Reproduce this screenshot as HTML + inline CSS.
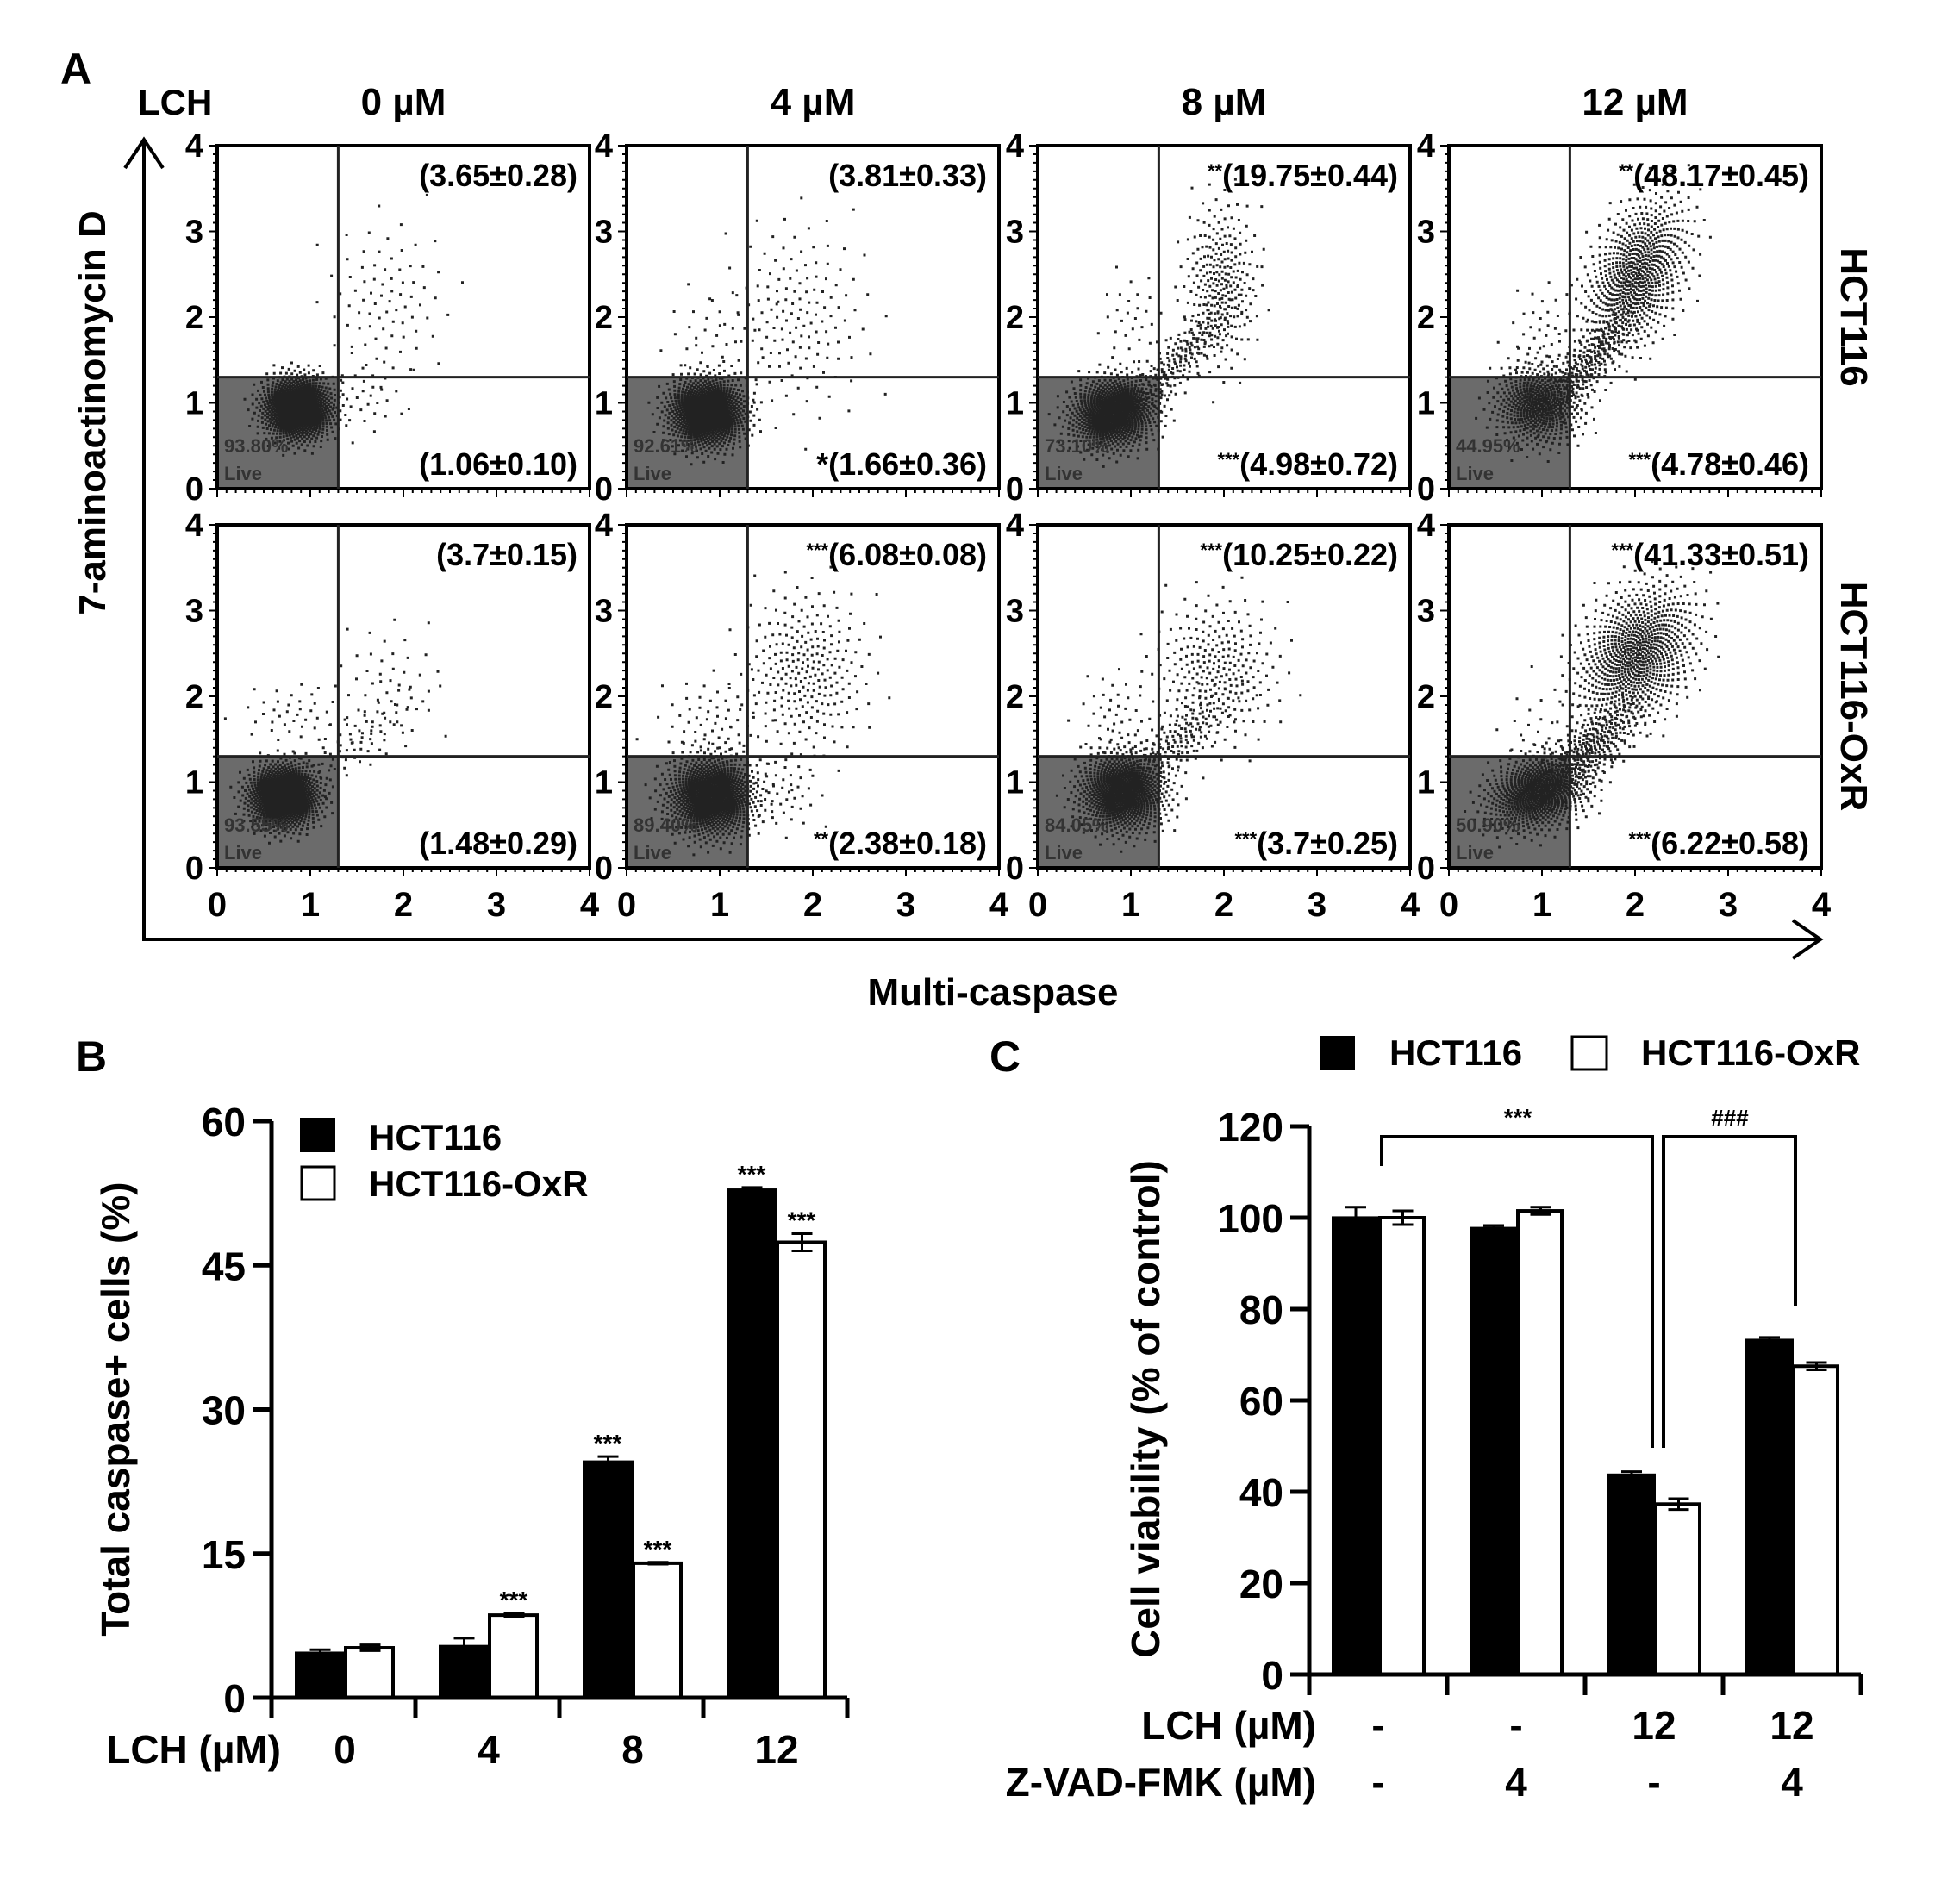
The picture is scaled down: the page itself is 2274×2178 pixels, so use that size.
<!DOCTYPE html>
<html><head><meta charset="utf-8"><style>
body{margin:0;background:#fff;}
svg{display:block;font-family:"Liberation Sans",Arial,sans-serif;font-weight:bold;}
</style></head><body>
<svg id="fig" width="2274" height="2178" viewBox="0 0 2274 2178" xmlns="http://www.w3.org/2000/svg">
<rect width="2274" height="2178" fill="#fff"/>
<g id="panelA"></g>
<g id="panelB"></g>
<g id="panelC"></g>
</svg>
<script>
// ---------- Panel A data ----------
const concLabels = ["0 µM","4 µM","8 µM","12 µM"];
const rowLabels = ["HCT116","HCT116-OxR"];
const urText = ["(3.65±0.28)","(3.81±0.33)","(19.75±0.44)","(48.17±0.45)","(3.7±0.15)","(6.08±0.08)","(10.25±0.22)","(41.33±0.51)"];
const urStars = ["","","**","**","","***","***","***"];
const lrText = ["(1.06±0.10)","(1.66±0.36)","(4.98±0.72)","(4.78±0.46)","(1.48±0.29)","(2.38±0.18)","(3.7±0.25)","(6.22±0.58)"];
const lrStars = ["","*","***","***","","**","***","***"];
const livePct = ["93.80%","92.61%","73.10%","44.95%","93.55%","89.40%","84.05%","50.90%"];
const aTicks = [0,1,2,3,4];
const gateX = 1.3, gateY = 1.3;
// clouds: [cx, cy, sx, sy, angleDeg, count] in axis units
const clouds = [
 [[0.85,0.95,0.2,0.2,30,900],[1.8,2.2,0.35,0.5,0,80],[1.6,1.1,0.2,0.25,0,30]],
 [[0.85,0.9,0.22,0.22,30,900],[1.8,2.0,0.4,0.6,0,150],[0.9,1.8,0.3,0.3,0,30]],
 [[0.8,0.9,0.25,0.22,25,800],[1.5,1.5,0.5,0.12,50,200],[1.95,2.4,0.2,0.5,0,250],[1.0,2.0,0.2,0.3,0,30]],
 [[0.95,1.0,0.25,0.25,30,500],[1.5,1.5,0.45,0.12,55,250],[2.0,2.5,0.25,0.5,-20,700],[1.0,1.8,0.2,0.35,0,40]],
 [[0.7,0.85,0.2,0.2,30,900],[1.5,1.5,0.5,0.15,40,80],[0.8,1.8,0.3,0.2,0,40],[1.8,2.2,0.3,0.4,0,40]],
 [[0.9,0.85,0.25,0.25,30,900],[1.9,2.3,0.35,0.5,0,250],[0.9,1.7,0.3,0.3,0,60],[1.7,0.9,0.2,0.25,0,40]],
 [[0.9,0.9,0.25,0.25,30,800],[1.5,1.5,0.4,0.15,45,150],[1.9,2.3,0.35,0.45,0,250],[0.8,1.8,0.2,0.3,0,40]],
 [[0.95,0.9,0.3,0.22,25,700],[1.5,1.4,0.4,0.15,50,300],[2.0,2.5,0.3,0.45,-25,800],[0.9,1.6,0.2,0.3,0,20]]
];
// ---------- Panel B data ----------
const bCats = ["0","4","8","12"];
const bHCT = [4.8,5.5,24.7,53.0];
const bHCTerr = [0.2,0.7,0.4,0.1];
const bOxR = [5.2,8.6,14.0,47.4];
const bOxRerr = [0.3,0.2,0.1,0.9];
const bStarsHCT = ["","","***","***"];
const bStarsOxR = ["","***","***","***"];
const bTicks = [0,15,30,45,60];
// ---------- Panel C data ----------
const cLCH = ["-","-","12","12"];
const cZVAD = ["-","4","-","4"];
const cHCT = [100.3,98.0,44.0,73.5];
const cHCTerr = [2.0,0.3,0.4,0.3];
const cOxR = [100.0,101.5,37.3,67.5];
const cOxRerr = [1.5,0.8,1.2,0.8];
const cTicks = [0,20,40,60,80,100,120];

const NS="http://www.w3.org/2000/svg";
function mk(parent,tag,attrs,text){const e=document.createElementNS(NS,tag);for(const k in attrs)e.setAttribute(k,attrs[k]);if(text!==undefined)e.textContent=text;parent.appendChild(e);return e;}

// ===== Panel A =====
const A=document.getElementById('panelA');
const boxL=[252,727,1204,1681], boxW=432, boxT=[169,609], boxH=398;
let t;
t=mk(A,'text',{x:70,y:97,'font-size':50});t.textContent='A';


t=mk(A,'text',{x:160,y:133,'font-size':42},'LCH');


concLabels.forEach((c,i)=>{const e=mk(A,'text',{x:boxL[i]+boxW/2,y:133,'font-size':44,'text-anchor':'middle'},c);

});
// big axes
let ax=mk(A,'path',{d:'M167 162 V1090 H2112',fill:'none',stroke:'#000','stroke-width':4});


mk(A,'path',{d:'M145 195 L167 162 L189 195 M2080 1068 L2112 1090 L2080 1112',fill:'none',stroke:'#000','stroke-width':4});
t=mk(A,'text',{x:0,y:0,'font-size':44,'text-anchor':'middle',transform:'translate(122,479) rotate(-90)'},'7-aminoactinomycin  D');


t=mk(A,'text',{x:1152,y:1166,'font-size':44,'text-anchor':'middle'},'Multi-caspase');


rowLabels.forEach((r,j)=>{const cy=boxT[j]+boxH/2;const e=mk(A,'text',{x:0,y:0,'font-size':44,'text-anchor':'middle',transform:`translate(2136,${cy}) rotate(90)`},r);

});

for(let j=0;j<2;j++)for(let i=0;i<4;i++){
  const k=j*4+i,L=boxL[i],T=boxT[j];
  const sx=v=>L+v/4*boxW, sy=v=>T+boxH-v/4*boxH;
  const g=mk(A,'g',{});
  
  
  const live=mk(g,'rect',{x:L,y:sy(gateY),width:sx(gateX)-L,height:T+boxH-sy(gateY),fill:'#6b6b6b'});
  
  
  let d='';
  clouds[k].forEach(c=>{const [cx,cy,s1,s2,ang,n]=c;const a=ang*Math.PI/180;
    for(let q=0;q<n;q++){const u=(q+0.5)/n;const r=Math.sqrt(-2*Math.log(1-u*0.985));const th=q*2.39996;
      const px=r*Math.cos(th)*s1,py=r*Math.sin(th)*s2;
      const vx=cx+px*Math.cos(a)-py*Math.sin(a), vy=cy+px*Math.sin(a)+py*Math.cos(a);
      if(vx<0.02||vx>3.98||vy<0.02||vy>3.98)continue;
      d+=`M${sx(vx).toFixed(1)} ${sy(vy).toFixed(1)}h3v3h-3z`;}});
  const dots=mk(g,'path',{d:d,fill:'#222'});
  
  
  mk(g,'rect',{x:L,y:T,width:boxW,height:boxH,fill:'none',stroke:'#000','stroke-width':4});
  mk(g,'line',{x1:sx(gateX),y1:T,x2:sx(gateX),y2:T+boxH,stroke:'#222','stroke-width':3});
  mk(g,'line',{x1:L,y1:sy(gateY),x2:L+boxW,y2:sy(gateY),stroke:'#222','stroke-width':3});
  let tk='';for(let m=0;m<=40;m++){const ln=m%10==0?10:5;tk+=`M${sx(m/10)} ${T+boxH}v${ln}M${L} ${sy(m/10)}h-${ln}`;}
  mk(g,'path',{d:tk,stroke:'#000','stroke-width':2});
  aTicks.forEach(v=>{const e=mk(g,'text',{x:L-16,y:sy(v)+13,'font-size':38,'text-anchor':'end'},String(v));
    
    });
  if(j==1)aTicks.forEach(v=>{const e=mk(g,'text',{x:sx(v),y:1063,'font-size':40,'text-anchor':'middle'},String(v));
    
    });
  const ur=mk(g,'text',{x:L+boxW-14,y:T+47,'font-size':36,'text-anchor':'end'});
  
  
  if(urStars[k]){mk(ur,'tspan',{'font-size':22,dy:-10},urStars[k]);mk(ur,'tspan',{dy:10},urText[k]);}else ur.textContent=urText[k];
  const lr=mk(g,'text',{x:L+boxW-14,y:T+boxH-16,'font-size':36,'text-anchor':'end'});
  
  
  if(lrStars[k]){mk(lr,'tspan',{'font-size':lrStars[k].length>1?22:36,dy:lrStars[k].length>1?-10:0},lrStars[k]);mk(lr,'tspan',{dy:lrStars[k].length>1?10:0},lrText[k]);}else lr.textContent=lrText[k];
  const lp=mk(g,'text',{x:L+8,y:T+boxH-42,'font-size':22,fill:'#333'},livePct[k]);
  
  
  const lv=mk(g,'text',{x:L+8,y:T+boxH-10,'font-size':22,fill:'#333'},'Live');
  
  
}

// ===== Bar chart helper =====
function barChart(G,o){
  const {x0,y0,ytop,vmax,ticks,groupW,off,bw1,bw2,v1,e1,v2,e2}=o;
  const ys=v=>y0-v/vmax*(y0-ytop);
  const xEnd=x0+groupW*v1.length;
  v1.forEach((v,i)=>{const gx=x0+i*groupW+off;
    const b=mk(G,'rect',{x:gx,y:ys(v),width:bw1,height:y0-ys(v),fill:'#000'});
    
    
    const w=mk(G,'rect',{x:gx+bw1,y:ys(v2[i]),width:bw2-2,height:y0-ys(v2[i]),fill:'#fff',stroke:'#000','stroke-width':4});
    
    
    [[gx+bw1/2,v,e1[i]],[gx+bw1+bw2/2,v2[i],e2[i]]].forEach(([cx,vv,ee])=>{
      const p=`M${cx-12} ${ys(vv+ee)}h24M${cx} ${ys(vv+ee)}V${ys(vv-ee)}M${cx-12} ${ys(vv-ee)}h24`;
      const eb=mk(G,'path',{d:p,stroke:'#000','stroke-width':3,fill:'none'});
      
      });
  });
  let d=`M${x0} ${ytop}V${y0}H${xEnd}`;
  ticks.forEach(v=>{d+=`M${x0-22} ${ys(v)}h22`;});
  for(let i=0;i<=v1.length;i++)d+=`M${x0+i*groupW} ${y0}v24`;
  const a=mk(G,'path',{d:d,stroke:'#000','stroke-width':5,fill:'none'});
  
  
  ticks.forEach(v=>{const e=mk(G,'text',{x:x0-30,y:ys(v)+17,'font-size':46,'text-anchor':'end'},String(v));
    
    });
  return ys;
}

// ===== Panel B =====
const B=document.getElementById('panelB');
t=mk(B,'text',{x:88,y:1243,'font-size':50},'B');


const bx0=315,bgw=167;
const ysB=barChart(B,{x0:bx0,y0:1970,ytop:1301,vmax:60,ticks:bTicks,groupW:bgw,off:27,bw1:59,bw2:57,v1:bHCT,e1:bHCTerr,v2:bOxR,e2:bOxRerr});
bCats.forEach((c,i)=>{const cx=bx0+i*bgw+27+58;
  const e=mk(B,'text',{x:cx,y:2046,'font-size':46,'text-anchor':'middle'},c);
  
  
  if(bStarsHCT[i]){const s=mk(B,'text',{x:bx0+i*bgw+27+29,y:ysB(bHCT[i]+bHCTerr[i])-6,'font-size':28,'text-anchor':'middle'},bStarsHCT[i]);
    
    }
  if(bStarsOxR[i]){const s=mk(B,'text',{x:bx0+i*bgw+27+59+28,y:ysB(bOxR[i]+bOxRerr[i])-6,'font-size':28,'text-anchor':'middle'},bStarsOxR[i]);
    
    }
});
t=mk(B,'text',{x:326,y:2046,'font-size':46,'text-anchor':'end'},'LCH (µM)');


t=mk(B,'text',{x:0,y:0,'font-size':46,'text-anchor':'middle',transform:'translate(150,1635) rotate(-90)'},'Total caspase+ cells (%)');


let lg=mk(B,'rect',{x:348,y:1297,width:41,height:40,fill:'#000'});


lg=mk(B,'rect',{x:350,y:1354,width:38,height:38,fill:'#fff',stroke:'#000','stroke-width':3});


t=mk(B,'text',{x:428,y:1334,'font-size':42},'HCT116');


t=mk(B,'text',{x:428,y:1388,'font-size':42},'HCT116-OxR');



// ===== Panel C =====
const C=document.getElementById('panelC');
t=mk(C,'text',{x:1148,y:1243,'font-size':50},'C');


const cx0=1519,cgw=160;
const ysC=barChart(C,{x0:cx0,y0:1943,ytop:1307,vmax:120,ticks:cTicks,groupW:cgw,off:26,bw1:56,bw2:53,v1:cHCT,e1:cHCTerr,v2:cOxR,e2:cOxRerr});
cLCH.forEach((c,i)=>{const gc=cx0+i*cgw+80;
  let e=mk(C,'text',{x:gc,y:2018,'font-size':46,'text-anchor':'middle'},c);
  
  
  e=mk(C,'text',{x:gc,y:2084,'font-size':46,'text-anchor':'middle'},cZVAD[i]);
  
  });
t=mk(C,'text',{x:1527,y:2018,'font-size':46,'text-anchor':'end'},'LCH (µM)');


t=mk(C,'text',{x:1527,y:2084,'font-size':46,'text-anchor':'end'},'Z-VAD-FMK (µM)');


t=mk(C,'text',{x:0,y:0,'font-size':46,'text-anchor':'middle',transform:'translate(1345,1635) rotate(-90)'},'Cell viability (% of control)');


const br=mk(C,'path',{d:'M1603 1353V1319H1917V1680M1930 1680V1319H2083V1515',stroke:'#000','stroke-width':4,fill:'none'});


t=mk(C,'text',{x:1761,y:1306,'font-size':28,'text-anchor':'middle'},'***');


t=mk(C,'text',{x:2007,y:1306,'font-size':26,'text-anchor':'middle'},'###');


lg=mk(C,'rect',{x:1531,y:1202,width:41,height:40,fill:'#000'});


lg=mk(C,'rect',{x:1824,y:1203,width:40,height:38,fill:'#fff',stroke:'#000','stroke-width':3});


t=mk(C,'text',{x:1612,y:1236,'font-size':42},'HCT116');


t=mk(C,'text',{x:1904,y:1236,'font-size':42},'HCT116-OxR');


</script>
</body></html>
